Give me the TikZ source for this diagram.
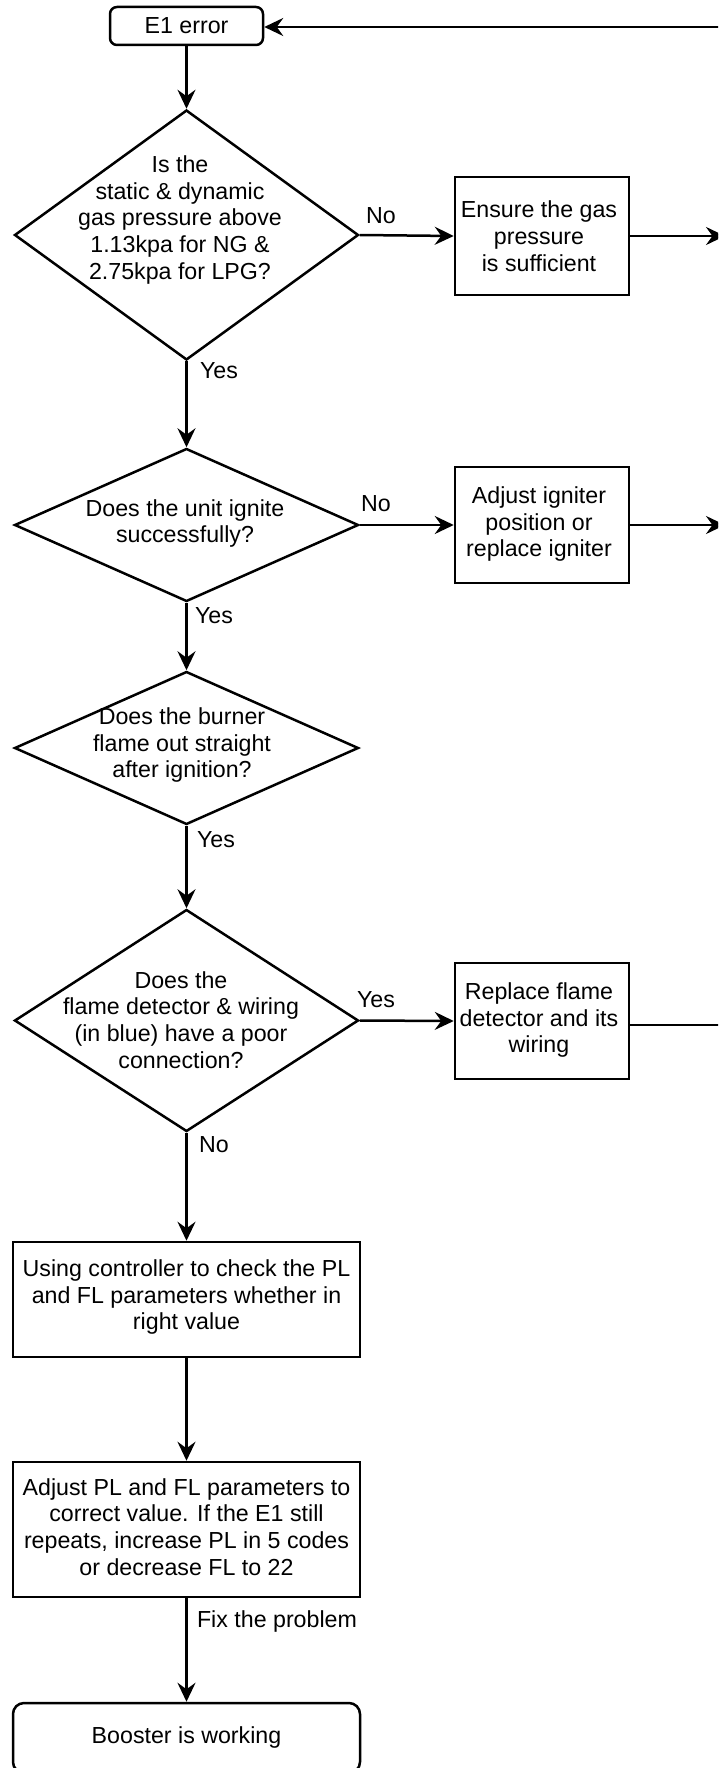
\documentclass[tikz,border=0pt]{standalone}
\usepackage{fontspec}
\setmainfont{Liberation Sans}
\usetikzlibrary{shapes.geometric,arrows.meta}
\tikzset{
  base/.style={line width=2.5pt, draw=black},
  txt/.style={font=\fontsize{23.2}{26.8}\selectfont, align=center, inner sep=0pt},
  boxnode/.style={base, rectangle, inner sep=0pt},
  roundbox/.style={base, rectangle, rounded corners=7pt, inner sep=0pt},
  decision/.style={base, diamond, inner sep=0pt},
  arr/.style={line width=2.5pt, -{Stealth[length=19pt,width=18pt,inset=6.5pt]}},
  ln/.style={line width=2.5pt},
  lbl/.style={font=\fontsize{23.2}{26.8}\selectfont, inner sep=0pt}
}
\begin{document}
\begin{tikzpicture}[x=1pt,y=-1pt]
\useasboundingbox (0,0) rectangle (718,1768);
\clip (0,0) rectangle (718,1768);

% main column nodes
\node[roundbox, minimum width=153pt, minimum height=38pt] (e1) at (186.5,26) {};
\node[txt] (e1t) at (186.5,26) {E1 error};

\node[decision, minimum width=344pt, minimum height=250pt] (d1) at (186.5,235) {};
\node[txt] (d1t) at (180,220) {Is the\\static \& dynamic\\gas pressure above\\1.13kpa for NG \&\\2.75kpa for LPG?};

\node[boxnode, minimum width=174pt, minimum height=118pt] (ens) at (542,236) {};
\node[txt] (enst) at (539,236) {Ensure the gas\\pressure\\is sufficient};

\node[decision, minimum width=344pt, minimum height=153pt] (d2) at (186.5,525) {};
\node[txt] (d2t) at (185,523.5) {Does the unit ignite\\successfully?};

\node[boxnode, minimum width=174pt, minimum height=116pt] (adj) at (542,525) {};
\node[txt] (adjt) at (539,524) {Adjust igniter\\position or\\replace igniter};

\node[decision, minimum width=344pt, minimum height=153pt] (d3) at (186.5,748) {};
\node[txt] (d3t) at (182,745) {Does the burner\\flame out straight\\after ignition?};

\node[decision, minimum width=344pt, minimum height=222pt] (d4) at (186.5,1020.5) {};
\node[txt] (d4t) at (181,1020) {Does the\\flame detector \& wiring\\(in blue) have a poor\\connection?};

\node[boxnode, minimum width=174pt, minimum height=116pt] (rep) at (542,1021) {};
\node[txt] (rept) at (539,1020) {Replace flame\\detector and its\\wiring};

\node[boxnode, minimum width=347pt, minimum height=115pt] (pl1) at (186.5,1299.5) {};
\node[txt] (pl1t) at (186.5,1297) {Using controller to check the PL\\and FL parameters whether in\\right value};

\node[boxnode, minimum width=347pt, minimum height=135pt] (pl2) at (186.5,1529.5) {};
\node[txt] (pl2t) at (186.5,1527) {Adjust PL and FL parameters to\\correct value. If the E1 still\\repeats, increase PL in 5 codes\\or decrease FL to 22};

\node[roundbox, rounded corners=11pt, minimum width=347pt, minimum height=70pt] (boost) at (186.5,1738) {};
\node[txt] (boostt) at (186.5,1737) {Booster is working};

% right-edge coordinates
\coordinate (r0) at (730,27);
\coordinate (r1) at (725,236);
\coordinate (r2) at (725,525);
\coordinate (r3) at (730,1025);

% connectors
\draw[arr] (e1) -- (d1.north);
\draw[arr] (d1.east) -- (ens.west);
\draw[arr] (ens.east) -- (r1);
\draw[arr] (d1.south) -- (d2.north);
\draw[arr] (d2.east) -- (adj.west);
\draw[arr] (adj.east) -- (r2);
\draw[arr] (d2.south) -- (d3.north);
\draw[arr] (d3.south) -- (d4.north);
\draw[arr] (d4.east) -- (rep.west);
\draw[ln] (rep.east |- r3) -- (r3);
\draw[arr] (d4.south) -- (pl1.north);
\draw[arr] (pl1.south) -- (pl2.north);
\draw[arr] (pl2.south) -- (boost.north);
\draw[arr] (r0) -- (e1.east |- r0);

% labels
\node[lbl] (l1) at (381,216) {No};
\node[lbl] (l2) at (219,371) {Yes};
\node[lbl] (l3) at (376,504) {No};
\node[lbl] (l4) at (214,616) {Yes};
\node[lbl] (l5) at (216,840) {Yes};
\node[lbl] (l6) at (376,1000) {Yes};
\node[lbl] (l7) at (214,1145) {No};
\node[lbl] (l8) at (277,1621) {Fix the problem};
\end{tikzpicture}
\end{document}
